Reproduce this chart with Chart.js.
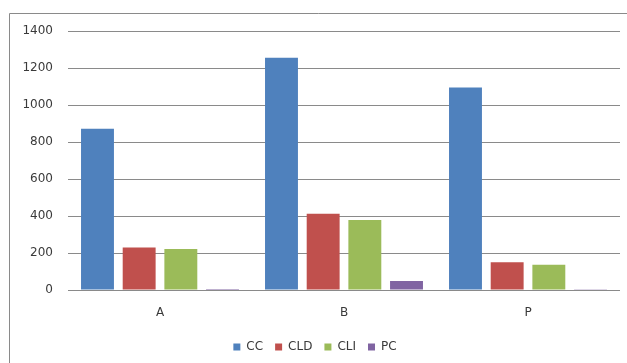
<!DOCTYPE html>
<html>
<head>
<meta charset="utf-8">
<script src="https://cdn.jsdelivr.net/npm/chart.js@4"></script>
<style>
  html, body { margin: 0; padding: 0; background: #fff; }
  #wrap { width: 627px; height: 363px; position: relative; }
</style>
</head>
<body>
<div id="wrap"><canvas id="c" width="627" height="363"></canvas></div>
<script>
// Categories and series values
const categories = ['A', 'B', 'P'];
const seriesNames = ['CC', 'CLD', 'CLI', 'PC'];
const ccValues  = [872, 1256, 1094];
const cldValues = [230, 412, 150];
const cliValues = [222, 378, 137];
const pcValues  = [5, 49, 4];
const yTicks = [0, 200, 400, 600, 800, 1000, 1200, 1400];

const colors = ['#4F81BD', '#C0504D', '#9BBB59', '#8064A2'];
const values = [ccValues, cldValues, cliValues, pcValues];

// Frame line along the top and left edge of the chart panel
const framePlugin = {
  id: 'frame',
  beforeDraw(chart) {
    const ctx = chart.ctx;
    ctx.save();
    ctx.strokeStyle = '#8a8a8a';
    ctx.lineWidth = 1;
    ctx.beginPath();
    ctx.moveTo(9.5, chart.height);
    ctx.lineTo(9.5, 13.5);
    ctx.lineTo(chart.width, 13.5);
    ctx.stroke();
    ctx.restore();
  }
};

new Chart(document.getElementById('c'), {
  type: 'bar',
  data: {
    labels: categories,
    datasets: seriesNames.map((name, i) => ({
      label: name,
      data: values[i],
      backgroundColor: colors[i],
      borderWidth: 0,
      categoryPercentage: 0.906,
      barPercentage: 0.79
    }))
  },
  options: {
    responsive: false,
    animation: false,
    layout: { padding: { left: 10, top: 31, right: 7, bottom: 0 } },
    plugins: {
      legend: {
        position: 'bottom',
        labels: {
          boxWidth: 7,
          boxHeight: 7,
          padding: 12,
          color: '#3a3a3a',
          font: { family: 'DejaVu Sans', size: 12 }
        }
      },
      tooltip: { enabled: false }
    },
    scales: {
      x: {
        grid: { display: false, drawTicks: false },
        border: { display: false },
        ticks: { color: '#3a3a3a', padding: 16, font: { family: 'DejaVu Sans', size: 12 } },
        afterFit(scale) { scale.height = 39; }
      },
      y: {
        min: 0,
        max: 1400,
        afterBuildTicks(scale) { scale.ticks = yTicks.map(v => ({ value: v })); },
        grid: { color: '#8a8a8a', lineWidth: 1, drawTicks: false },
        border: { display: false },
        ticks: {
          color: '#3a3a3a',
          padding: 15,
          font: { family: 'DejaVu Sans', size: 12 },
          callback: (v) => String(v)
        },
        afterFit(scale) { scale.width = 58; }
      }
    }
  },
  plugins: [framePlugin]
});
</script>
</body>
</html>
